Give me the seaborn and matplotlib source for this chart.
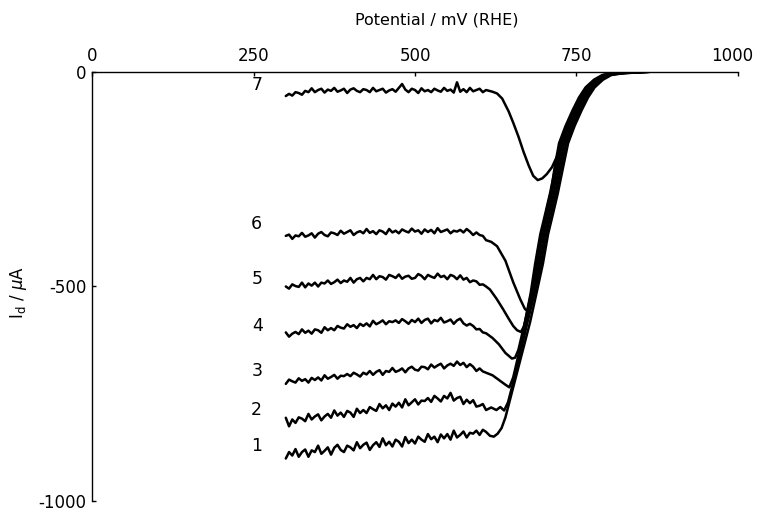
import matplotlib
matplotlib.use("Agg")
import matplotlib.pyplot as plt
from matplotlib.transforms import ScaledTranslation
import seaborn as sns
import pandas as pd

# ---------------- data ----------------
curve_labels = ["1", "2", "3", "4", "5", "6", "7"]
label_x = [255, 255, 255, 256, 255, 255, 256]
label_y = [-872, -789, -698, -592, -483, -355, -30]

# potential grid of the noisy (plateau) part of every scan, mV
E_scan = [300, 305, 310, 315, 320, 325, 330, 335, 340, 345, 350, 355, 360, 365, 370, 375,
          380, 385, 390, 395, 400, 405, 410, 415, 420, 425, 430, 435, 440, 445, 450, 455,
          460, 465, 470, 475, 480, 485, 490, 495, 500, 505, 510, 515, 520, 525, 530, 535,
          540, 545, 550, 555, 560, 565, 570, 575, 580, 585, 590, 595, 600, 605, 610]

# plateau currents, uA
p1 = [-901, -886, -894, -879, -897, -886, -880, -897, -882, -886, -871, -890, -883, -875, -892, -876,
      -869, -881, -886, -871, -875, -882, -863, -877, -869, -864, -881, -870, -863, -874, -854, -870,
      -862, -873, -857, -862, -873, -851, -865, -857, -866, -850, -857, -862, -844, -856, -850, -863,
      -845, -854, -844, -857, -836, -852, -846, -838, -852, -841, -843, -836, -846, -834, -839]
p2 = [-806, -826, -810, -818, -805, -808, -814, -797, -810, -803, -798, -812, -803, -797, -806, -789,
      -801, -794, -804, -790, -794, -804, -785, -795, -788, -795, -781, -786, -790, -774, -784, -777,
      -788, -773, -780, -771, -782, -763, -777, -770, -763, -775, -766, -767, -760, -769, -755, -761,
      -768, -755, -761, -748, -766, -760, -757, -774, -764, -772, -765, -780, -778, -774, -788]
p3 = [-727, -717, -721, -724, -714, -720, -716, -724, -713, -718, -712, -719, -707, -715, -711, -706,
      -715, -708, -709, -704, -709, -701, -705, -710, -701, -705, -697, -706, -699, -695, -706, -697,
      -699, -690, -699, -696, -691, -700, -691, -687, -694, -696, -687, -688, -693, -682, -689, -684,
      -680, -691, -684, -680, -685, -675, -683, -678, -688, -681, -687, -697, -691, -698, -701]
p4 = [-607, -617, -610, -606, -611, -600, -608, -603, -610, -600, -602, -608, -595, -602, -597, -602,
      -592, -596, -598, -588, -594, -590, -597, -587, -592, -586, -593, -580, -588, -584, -579, -588,
      -581, -583, -579, -585, -576, -581, -587, -578, -583, -575, -585, -578, -575, -586, -578, -581,
      -573, -584, -581, -577, -587, -579, -575, -586, -591, -587, -592, -600, -599, -607, -609]
p5 = [-500, -505, -495, -499, -501, -491, -502, -493, -498, -491, -500, -491, -493, -486, -494, -490,
      -484, -492, -486, -489, -480, -491, -483, -480, -488, -480, -483, -473, -483, -476, -478, -484,
      -473, -476, -480, -472, -482, -477, -475, -482, -480, -471, -475, -483, -473, -477, -480, -470,
      -478, -475, -483, -473, -476, -483, -474, -484, -480, -490, -486, -488, -496, -495, -500]
p6 = [-382, -379, -389, -381, -383, -375, -384, -381, -376, -386, -377, -373, -380, -383, -374, -376,
      -380, -370, -377, -373, -369, -380, -374, -371, -376, -366, -375, -371, -378, -369, -372, -378,
      -366, -374, -370, -376, -367, -371, -374, -365, -372, -369, -377, -367, -373, -368, -376, -364,
      -373, -370, -367, -376, -370, -372, -368, -374, -366, -372, -380, -374, -380, -382, -392]
p7 = [-56, -51, -55, -47, -49, -53, -44, -47, -38, -47, -42, -39, -48, -41, -44, -37,
      -46, -43, -39, -49, -41, -38, -44, -47, -40, -42, -47, -37, -45, -42, -39, -48,
      -43, -40, -46, -37, -28, -41, -47, -39, -42, -49, -38, -45, -42, -47, -39, -43,
      -46, -37, -44, -41, -48, -24, -46, -40, -47, -37, -45, -42, -39, -47, -42]

# knee, minimum and the common rising wave of each scan
t1_E = [616, 622, 628, 634, 640, 646, 656, 667, 678, 688, 698, 706, 714, 721, 729, 737,
        747, 758, 768, 778, 791, 804, 822, 845, 863]
t1_I = [-848, -850, -843, -830, -805, -770, -712, -648, -584, -516, -447, -378, -328, -283, -224, -166,
        -126, -89, -59, -36, -18, -7, -3, -1, 0]
t2_E = [618, 626, 632, 638, 644, 654, 664, 674, 685, 695, 703, 711, 718, 726, 734,
        744, 755, 765, 775, 788, 801, 819, 842, 860]
t2_I = [-782, -788, -781, -789, -770, -712, -648, -584, -516, -447, -378, -328, -283, -224, -166,
        -126, -89, -59, -36, -18, -7, -3, -1, 0]
t3_E = [620, 630, 640, 646, 652, 662, 672, 683, 692, 700, 708, 715, 723, 731, 741,
        752, 762, 772, 785, 798, 816, 839, 857]
t3_I = [-707, -718, -729, -735, -712, -648, -584, -516, -447, -378, -328, -283, -224, -166, -126,
        -89, -59, -36, -18, -7, -3, -1, 0]
t4_E = [620, 630, 640, 650, 655, 660, 670, 680, 689, 697, 705, 712, 720, 728, 738,
        749, 759, 769, 782, 795, 813, 836, 854]
t4_I = [-620, -635, -655, -668, -666, -648, -584, -516, -447, -378, -328, -283, -224, -166, -126,
        -89, -59, -36, -18, -7, -3, -1, 0]
t5_E = [616, 626, 636, 645, 652, 658, 664, 669, 679, 686, 694, 702, 709, 717, 725, 735,
        746, 756, 766, 779, 792, 810, 833, 851]
t5_I = [-507, -528, -552, -575, -592, -602, -606, -592, -516, -447, -378, -328, -283, -224, -166, -126,
        -89, -59, -36, -18, -7, -3, -1, 0]
t6_E = [618, 627, 640, 652, 663, 670, 676, 680, 685, 690, 697, 704, 711, 716, 723, 733,
        744, 754, 764, 777, 790, 808, 831, 850]
t6_I = [-396, -406, -440, -490, -530, -552, -560, -538, -480, -420, -370, -320, -276, -224, -166, -126,
        -89, -59, -36, -18, -7, -3, -1, 0]
t7_E = [620, 627, 635, 645, 652, 660, 668, 676, 683, 690, 697, 704, 712, 720, 727, 736,
        746, 756, 766, 779, 792, 810, 833, 850]
t7_I = [-46, -50, -62, -92, -118, -150, -186, -218, -242, -252, -248, -238, -222, -196, -160, -122,
        -87, -58, -35, -18, -7, -3, -1, 0]

plateaus = [p1, p2, p3, p4, p5, p6, p7]
tails_E = [t1_E, t2_E, t3_E, t4_E, t5_E, t6_E, t7_E]
tails_I = [t1_I, t2_I, t3_I, t4_I, t5_I, t6_I, t7_I]

x_ticks = [0, 250, 500, 750, 1000]
y_ticks = [0, -500, -1000]
y_tick_labels = ["0", "-500", "-1000"]

# ---------------- figure ----------------
sns.set_style("white")
plt.rcParams["font.family"] = ["DejaVu Sans"]
plt.rcParams["text.color"] = "black"
plt.rcParams["axes.labelcolor"] = "black"
plt.rcParams["xtick.color"] = "black"
plt.rcParams["ytick.color"] = "black"

fig = plt.figure(figsize=(7.58, 5.11), dpi=100)
ax = fig.add_axes([0.1214, 0.0196, 0.8522, 0.8395])

frames = []
for lab, pl, te, ti in zip(curve_labels, plateaus, tails_E, tails_I):
    frames.append(pd.DataFrame({"E": E_scan + te, "I": pl + ti, "curve": lab}))
df = pd.concat(frames, ignore_index=True)

for lab in curve_labels:
    sub = df[df["curve"] == lab]
    sns.lineplot(data=sub, x="E", y="I", color="black", linewidth=1.8,
                 estimator=None, sort=False, ax=ax, legend=False)

for lab, lx, ly in zip(curve_labels, label_x, label_y):
    ax.text(lx, ly, lab, ha="center", va="center", fontsize=12.5, color="black")

ax.set_xlim(0, 1000)
ax.set_ylim(-1000, 0)
ax.xaxis.tick_top()
ax.xaxis.set_label_position("top")
ax.set_xticks(x_ticks)
ax.set_xticklabels([str(t) for t in x_ticks])
ax.set_yticks(y_ticks)
ax.set_yticklabels(y_tick_labels)
ax.tick_params(axis="x", direction="in", length=3, width=1, pad=5, labelsize=12,
               top=True, bottom=False)
ax.tick_params(axis="y", direction="in", length=3, width=1, pad=4, labelsize=12,
               left=True, right=False)

last = ax.get_xticklabels()[-1]
last.set_transform(last.get_transform() + ScaledTranslation(-4 / 72, 0, fig.dpi_scale_trans))

for side in ["bottom", "right"]:
    ax.spines[side].set_visible(False)
for side in ["top", "left"]:
    ax.spines[side].set_visible(True)
    ax.spines[side].set_color("black")
    ax.spines[side].set_linewidth(1.0)

ax.set_xlabel("Potential / mV (RHE)", fontsize=11.5)
ax.xaxis.set_label_coords(0.533, 1.11)
ax.set_ylabel(r"$\mathrm{I_d}$ / $\mu$A", fontsize=12)
ax.yaxis.set_label_coords(-0.097, 0.485)

fig.savefig("out.png", dpi=100)
